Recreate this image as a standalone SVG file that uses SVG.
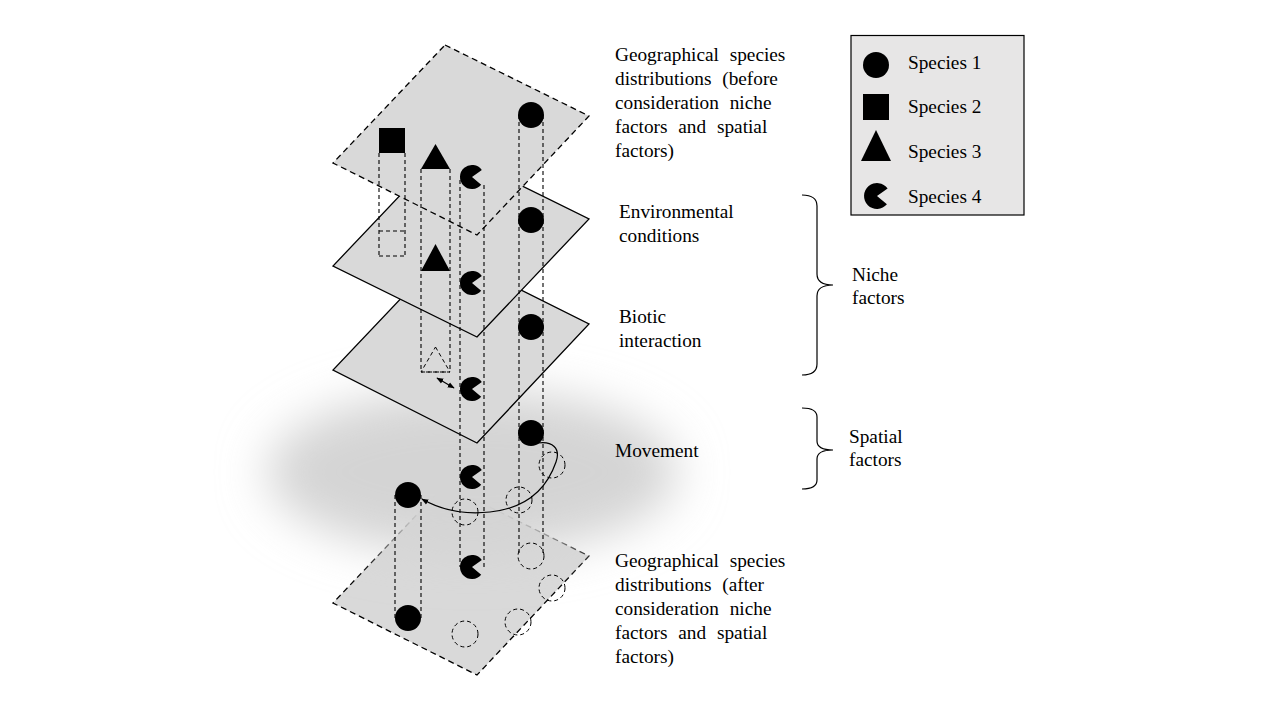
<svg xmlns="http://www.w3.org/2000/svg" xmlns:xlink="http://www.w3.org/1999/xlink" width="1280" height="720" viewBox="0 0 1280 720">
<style>
text{font-family:"Liberation Serif","Times New Roman",serif;font-size:19.3px;fill:#000}
.desc text{word-spacing:6px}
.plane{fill:#d9d9d9;stroke:#000;stroke-width:1.3}
.dplane{fill:#d9d9d9;stroke:#000;stroke-width:1.3;stroke-dasharray:6 4}
.col{fill:none;stroke:#000;stroke-width:1.1;stroke-dasharray:4 3}
.ghost{fill:none;stroke:#000;stroke-width:1;stroke-dasharray:4 3}
.sym{fill:#000}
.brace{fill:none;stroke:#000;stroke-width:1.2}
.conn{fill:none;stroke:#000;stroke-width:1.2}
</style>
<defs>
<filter id="soft" x="-50%" y="-80%" width="200%" height="260%">
<feGaussianBlur stdDeviation="24"/>
</filter>
<path id="pac" d="M9.19,7.71 A12,12 0 1 1 9.83,-6.88 L0,0 Z"/>
<marker id="ah" viewBox="0 0 10 10" refX="9" refY="5" markerWidth="7" markerHeight="7" orient="auto-start-reverse" markerUnits="userSpaceOnUse">
<path d="M0,1 L10,5 L0,9 Z" fill="#000"/>
</marker>
</defs>
<rect width="1280" height="720" fill="#fff"/>

<g id="plane-after">
<polygon class="dplane" points="445,485 589,556 477,675 333,603"/>
</g>
<g id="shadow-area">
<ellipse cx="472" cy="472" rx="205" ry="82" fill="#d4d4d4" filter="url(#soft)"/>
</g>
<g id="plane-biotic">
<polygon class="plane" points="445,252 589,324 477,443 333,370"/>
</g>
<g id="plane-env">
<polygon class="plane" points="445,148 589,219 477,337 333,266"/>
</g>
<g id="plane-before">
<polygon class="dplane" points="445,45 589,116 477,235 333,163"/>
</g>

<g id="connectors">
<path class="col" d="M379,153 V256 M405,153 V256 M379,231 H405 M379,256 H405"/>
<path class="col" d="M421,169 V372 M450,169 V372 M421,372 H450"/>
<path class="col" d="M460,180 V567 M484,185 V567"/>
<path class="col" d="M519,115 V556 M543,115 V556"/>
<path class="col" d="M395,495 V618 M421,495 V618"/>
<path class="conn" d="M437,378 L454,388" marker-start="url(#ah)" marker-end="url(#ah)"/>
<path class="conn" d="M538,443 C552,441 561,448 556,462 C547,488 528,508 490,512 C462,515 441,510 422,499" marker-end="url(#ah)"/>
</g>

<g id="species-square">
<rect class="sym" x="379" y="128" width="26" height="25"/>
</g>
<g id="species-triangle">
<polygon class="sym" points="435.5,144 450,169 421,169"/>
<polygon class="sym" points="435.5,244 450,271 421,271"/>
<polygon class="ghost" points="435.5,347 450,372 421,372"/>
</g>
<g id="species-pacman">
<use href="#pac" x="472" y="177"/>
<use href="#pac" x="472" y="283"/>
<use href="#pac" x="472" y="389"/>
<use href="#pac" x="472" y="477"/>
<use href="#pac" x="472" y="567"/>
</g>
<g id="species-circle">
<circle class="sym" cx="531" cy="115" r="13"/>
<circle class="sym" cx="531" cy="220" r="13"/>
<circle class="sym" cx="531" cy="327" r="13"/>
<circle class="sym" cx="531" cy="433" r="13"/>
<circle class="sym" cx="408" cy="495" r="13"/>
<circle class="sym" cx="408" cy="618" r="13"/>
<circle class="ghost" cx="552" cy="465" r="13"/>
<circle class="ghost" cx="519" cy="500" r="13"/>
<circle class="ghost" cx="465" cy="512" r="13"/>
<circle class="ghost" cx="531" cy="556" r="13"/>
<circle class="ghost" cx="552" cy="588" r="13"/>
<circle class="ghost" cx="518" cy="622" r="13"/>
<circle class="ghost" cx="465" cy="634" r="13"/>
</g>

<g id="label-before" class="desc">
<text x="615" y="61">Geographical species</text>
<text x="615" y="85">distributions (before</text>
<text x="615" y="109">consideration niche</text>
<text x="615" y="133">factors and spatial</text>
<text x="615" y="157">factors)</text>
</g>
<g id="label-env" class="desc">
<text x="619" y="218">Environmental</text>
<text x="619" y="242">conditions</text>
</g>
<g id="label-biotic" class="desc">
<text x="619" y="323">Biotic</text>
<text x="619" y="347">interaction</text>
</g>
<g id="label-movement" class="desc">
<text x="615" y="457">Movement</text>
</g>
<g id="label-after" class="desc">
<text x="615" y="567">Geographical species</text>
<text x="615" y="591">distributions (after</text>
<text x="615" y="615">consideration niche</text>
<text x="615" y="639">factors and spatial</text>
<text x="615" y="663">factors)</text>
</g>

<g id="brace-niche">
<path class="brace" d="M802,195 Q817,195 817,206 L817,274 Q817,285 833,285 Q817,285 817,296 L817,364 Q817,375 802,375"/>
<text x="852" y="281">Niche</text>
<text x="852" y="304">factors</text>
</g>
<g id="brace-spatial">
<path class="brace" d="M802,408 Q817,408 817,417 L817,441 Q817,450 833,450 Q817,450 817,459 L817,480 Q817,489 802,489"/>
<text x="849" y="443">Spatial</text>
<text x="849" y="466">factors</text>
</g>

<g id="legend">
<rect x="851" y="35.5" width="173" height="179.5" fill="#e7e6e6" stroke="#000" stroke-width="1.2"/>
<circle class="sym" cx="876" cy="65" r="13"/>
<text x="908" y="69">Species 1</text>
<rect class="sym" x="863" y="94" width="26" height="26"/>
<text x="908" y="113">Species 2</text>
<polygon class="sym" points="876,130 891,161 861,161"/>
<text x="908" y="158">Species 3</text>
<g transform="translate(877,196) scale(1.08)"><use href="#pac"/></g>
<text x="908" y="203">Species 4</text>
</g>
</svg>
